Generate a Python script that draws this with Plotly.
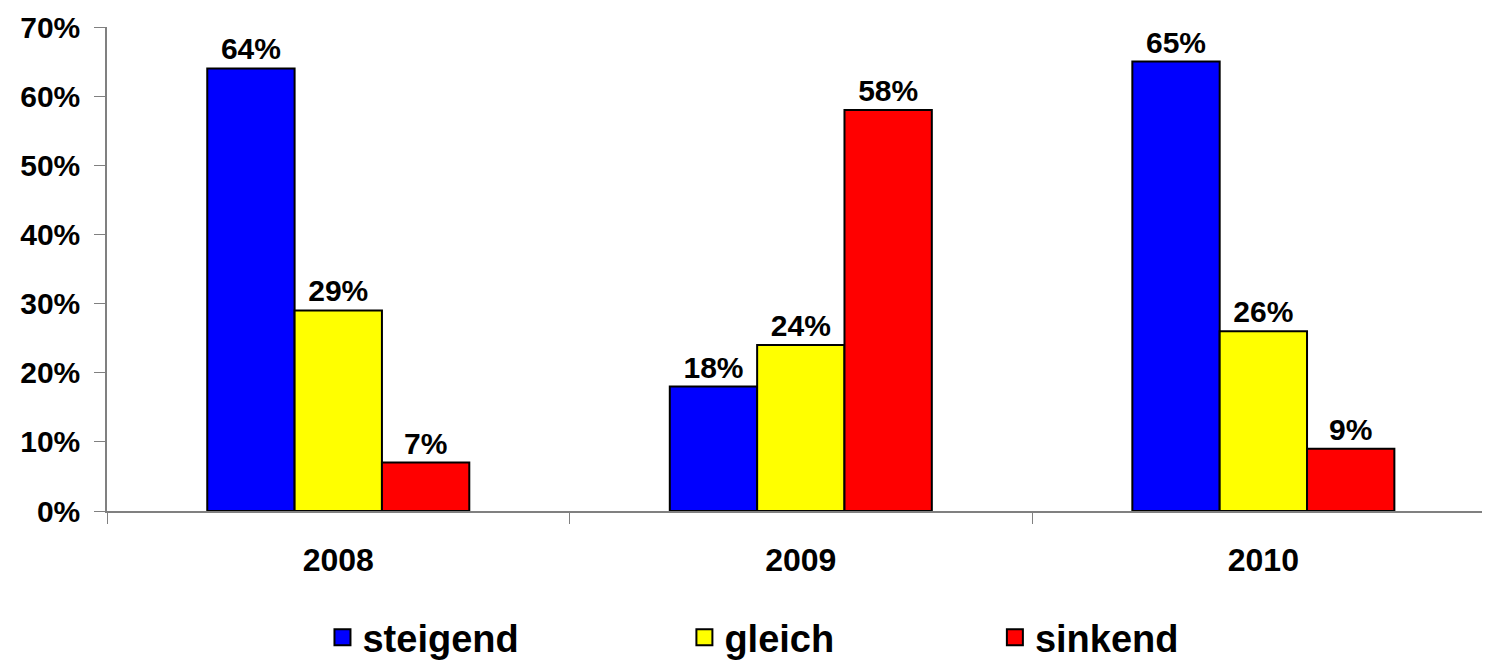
import plotly.graph_objects as go

years = ["2008", "2009", "2010"]
steigend = [64, 18, 65]
gleich = [29, 24, 26]
sinkend = [7, 58, 9]
y_ticks = [0, 10, 20, 30, 40, 50, 60, 70]
y_ticklabels = [f"{v}%" for v in y_ticks]

series = [
    ("steigend", steigend, "#0000FF", "legend", 0.1558),
    ("gleich", gleich, "#FFFF00", "legend2", 0.4175),
    ("sinkend", sinkend, "#FF0000", "legend3", 0.6420),
]

FONT = "Liberation Sans, Arial, sans-serif"

fig = go.Figure()
for name, vals, color, leg, _ in series:
    fig.add_trace(go.Bar(
        name=name, x=years, y=vals,
        marker=dict(color=color, line=dict(color="black", width=2)),
        text=[f"{v}%" for v in vals], textposition="outside",
        textfont=dict(family=FONT, size=30, color="black", weight="bold"),
        cliponaxis=False, showlegend=False,
    ))
# legend entries (square swatches)
for name, vals, color, leg, _ in series:
    fig.add_trace(go.Scatter(
        name=name, x=[None], y=[None], mode="markers",
        marker=dict(symbol="square", size=16, color=color,
                    line=dict(color="black", width=2)),
        legend=leg, showlegend=True, hoverinfo="skip",
    ))

layout_legends = {}
for name, vals, color, leg, xpos in series:
    layout_legends[leg] = dict(
        x=xpos, y=-0.3264, xanchor="left", yanchor="bottom",
        orientation="h", bgcolor="rgba(0,0,0,0)", itemsizing="trace",
        font=dict(family=FONT, size=38, color="black", weight="bold"),
    )

# The page body adds an 8px margin, so the figure is sized to the visible area.
fig.update_layout(
    width=1482, height=661,
    margin=dict(l=99, r=0, t=19, b=158, autoexpand=False),
    paper_bgcolor="white", plot_bgcolor="white",
    barmode="group", bargap=0.4335, bargroupgap=0,
    showlegend=True,
    **layout_legends,
)
fig.update_xaxes(
    type="category", range=[-0.5, 2.49], automargin=False,
    showline=True, linecolor="#808080", linewidth=1.5,
    ticks="outside", tickson="boundaries", ticklen=11, tickcolor="#808080",
    tickfont=dict(family=FONT, size=32, color="black", weight="bold"),
    ticklabelstandoff=20, showgrid=False,
)
fig.update_yaxes(
    range=[0, 70], tickvals=y_ticks, ticktext=y_ticklabels, automargin=False,
    showline=True, linecolor="#808080", linewidth=1.5,
    ticks="outside", ticklen=11, tickcolor="#808080",
    tickfont=dict(family=FONT, size=30, color="black", weight="bold"),
    ticklabelstandoff=8, showgrid=False, zeroline=False,
)

fig.write_html("out.html")
